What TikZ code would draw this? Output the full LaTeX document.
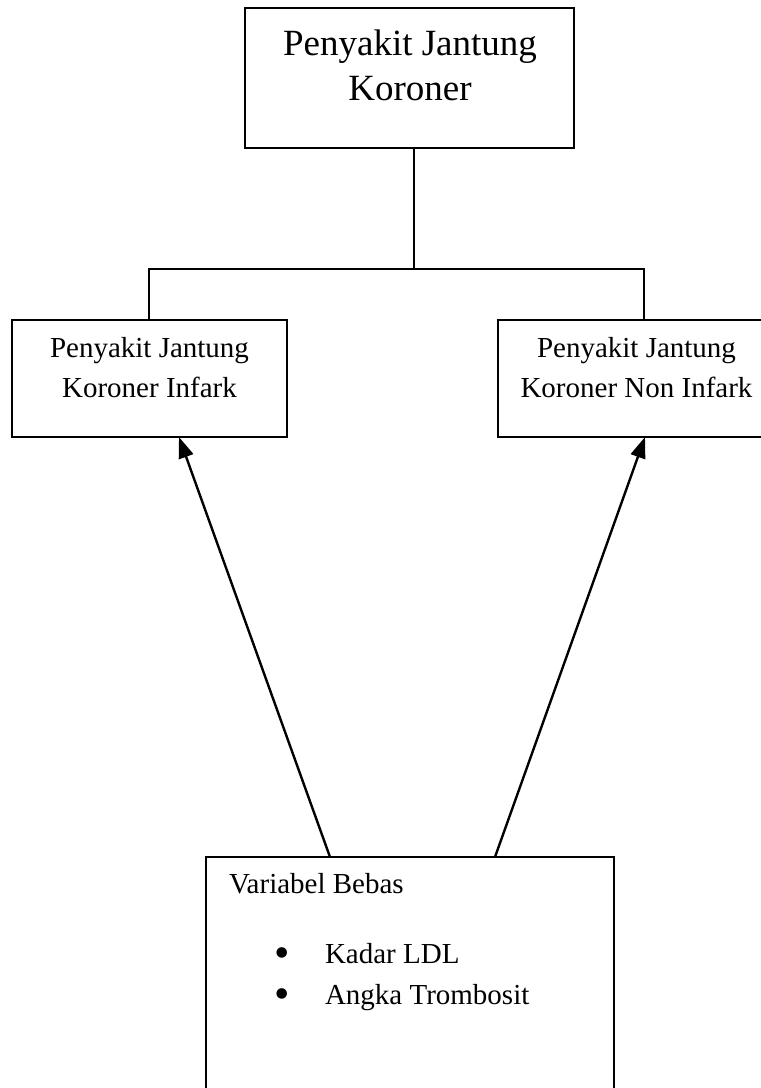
\documentclass[tikz,border=0pt]{standalone}
\usepackage{fontspec}
\setmainfont{Liberation Serif}
\usetikzlibrary{arrows.meta,calc}
\begin{document}
\begin{tikzpicture}[x=1pt,y=-1pt,line width=2pt,
  box/.style={draw,line width=2pt,inner sep=0pt,outer sep=0pt},
  bigtext/.style={anchor=base,inner sep=0pt,font=\fontsize{37}{45}\selectfont},
  smalltext/.style={anchor=base,inner sep=0pt,font=\fontsize{29}{40}\selectfont},
  lefttext/.style={anchor=base west,inner sep=0pt,font=\fontsize{29}{40}\selectfont},
  bullettext/.style={anchor=base,inner sep=0pt,font=\fontsize{44}{40}\selectfont},
  arr/.style={-{Triangle[length=21pt,width=15pt]},line width=2.4pt}]
\useasboundingbox (0,0) rectangle (761,1088);
% boxes
\node[box,minimum width=329pt,minimum height=140pt] (top) at (409.5,78) {};
\node[box,minimum width=275pt,minimum height=117pt] (left) at (149.5,378.5) {};
\node[box,minimum width=277pt,minimum height=117pt] (right) at (636.5,378.5) {};
\node[box,minimum width=408pt,minimum height=253pt] (bottom) at (410,983.5) {};
% texts
\node[bigtext] (t1) at (410,55) {Penyakit Jantung};
\node[bigtext] (t2) at (410,100) {Koroner};
\node[smalltext] (l1) at (149.5,357) {Penyakit Jantung};
\node[smalltext] (l2) at (149.5,397) {Koroner Infark};
\node[smalltext] (r1) at (636.5,357) {Penyakit Jantung};
\node[smalltext] (r2) at (636.5,397) {Koroner Non Infark};
\node[lefttext] (b0) at (228,893) {Variabel Bebas};
\node[bullettext] (d1) at (282,967) {•};
\node[lefttext] (b1) at (324,963) {Kadar LDL};
\node[bullettext] (d2) at (282,1008) {•};
\node[lefttext] (b2) at (324,1004) {Angka Trombosit};
% tree connectors
\coordinate (j) at (414,269);
\coordinate (jl) at (148.5,269);
\coordinate (jr) at (644,269);
\draw (top.south -| j) -- (j);
\draw[line join=miter] (left.north -| jl) -- (jl) -- (jr) -- (right.north -| jr);
% arrows
\coordinate (sL) at (330,0);
\coordinate (sR) at (495,0);
\coordinate (eL) at (179,0);
\coordinate (eR) at (645,0);
\draw[arr] (bottom.north -| sL) -- (left.south -| eL);
\draw[arr] (bottom.north -| sR) -- (right.south -| eR);
\end{tikzpicture}
\end{document}
